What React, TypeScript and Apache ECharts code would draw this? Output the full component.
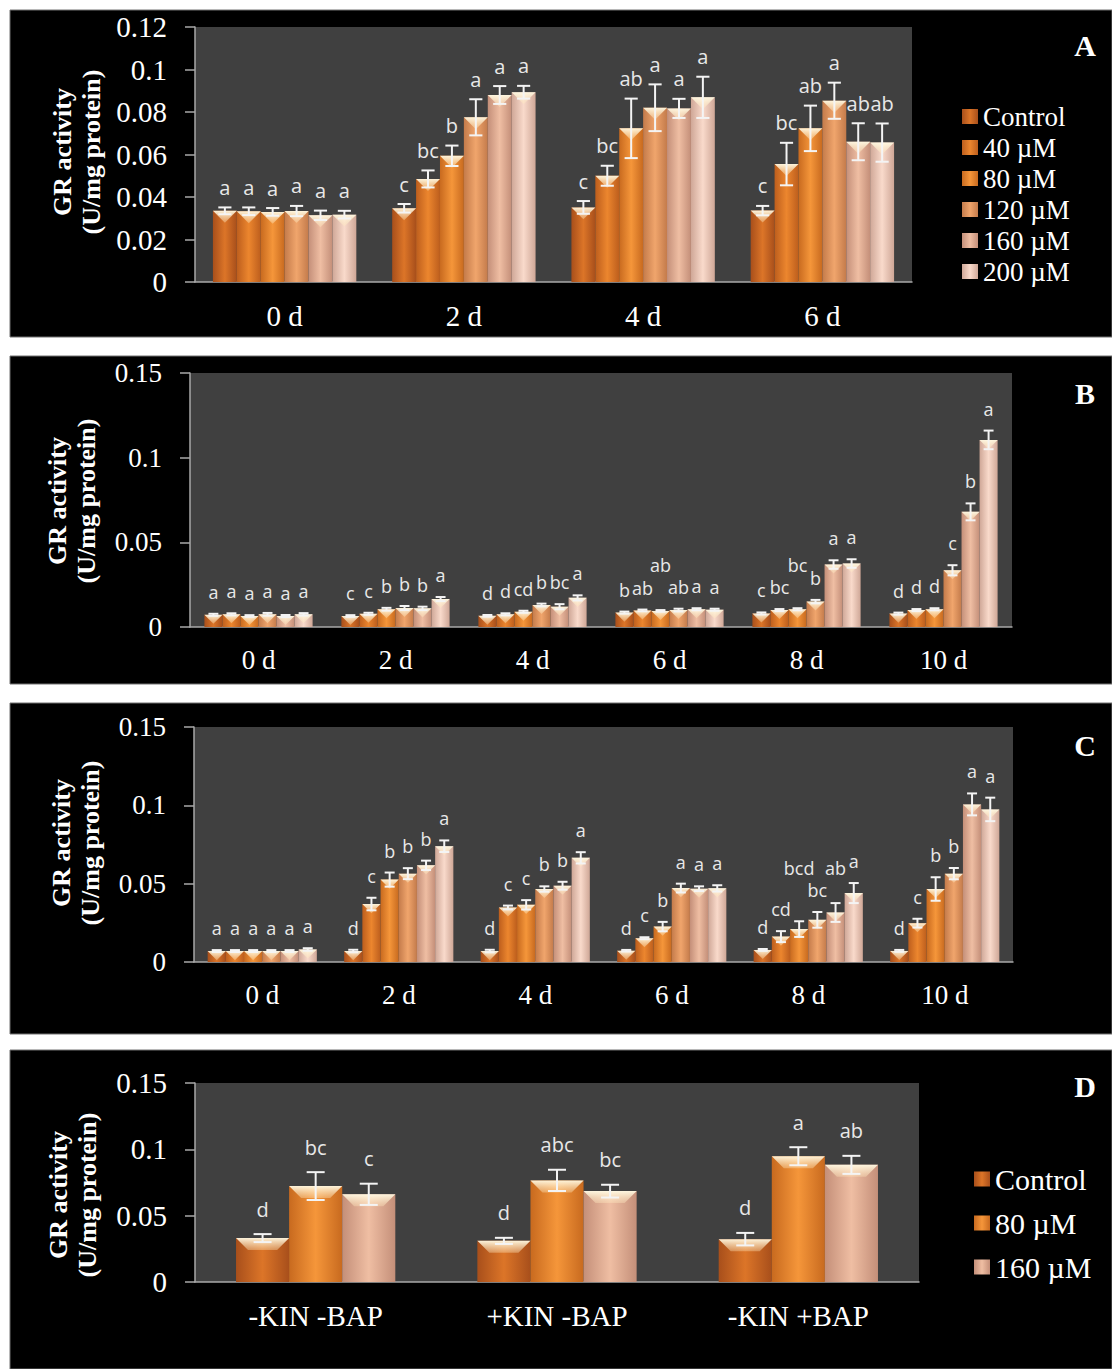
import { useEffect, useRef } from 'react';
import * as echarts from 'echarts';

const serif = '"Liberation Serif", "Times New Roman", serif';
const sans = '"Open Sans", "Noto Sans", sans-serif';

// ---------- categories ----------
const daysA = ['0 d', '2 d', '4 d', '6 d'];
const daysBC = ['0 d', '2 d', '4 d', '6 d', '8 d', '10 d'];
const hormoneGroups = ['-KIN -BAP', '+KIN -BAP', '-KIN +BAP'];

const treatmentsA = ['Control', '40 µM', '80 µM', '120 µM', '160 µM', '200 µM'];
const treatmentsD = ['Control', '80 µM', '160 µM'];

// ---------- panel A (rows: treatments, columns: days) ----------
const meanA = [
  [0.0335, 0.0347, 0.0351, 0.0336],
  [0.0333, 0.0485, 0.05, 0.0555],
  [0.033, 0.0594, 0.0723, 0.0723],
  [0.0334, 0.0775, 0.082, 0.0853],
  [0.0314, 0.088, 0.0817, 0.066],
  [0.0317, 0.0893, 0.0869, 0.0656],
];
const errA = [
  [0.0016, 0.002, 0.003, 0.0022],
  [0.0018, 0.004, 0.0047, 0.01],
  [0.0018, 0.0048, 0.014, 0.0107],
  [0.0024, 0.0085, 0.011, 0.0085],
  [0.0022, 0.0042, 0.0045, 0.0087],
  [0.0018, 0.003, 0.0097, 0.009],
];
const lettersA = [
  ['a', 'c', 'c', 'c'],
  ['a', 'bc', 'bc', 'bc'],
  ['a', 'b', 'ab', 'ab'],
  ['a', 'a', 'a', 'a'],
  ['a', 'a', 'a', 'ab'],
  ['a', 'a', 'a', 'ab'],
];

// ---------- panel B ----------
const meanB = [
  [0.0072, 0.0065, 0.0066, 0.0085, 0.008, 0.0079],
  [0.0075, 0.0078, 0.0075, 0.0098, 0.01, 0.01],
  [0.0065, 0.0105, 0.009, 0.0095, 0.0105, 0.0105],
  [0.0075, 0.0112, 0.013, 0.01, 0.015, 0.0335],
  [0.0065, 0.011, 0.012, 0.0105, 0.0369, 0.068],
  [0.0075, 0.0165, 0.0172, 0.0102, 0.0375, 0.1105],
];
const errB = [
  [0.0006, 0.0005, 0.0005, 0.0006, 0.0006, 0.0006],
  [0.0006, 0.0006, 0.0006, 0.0005, 0.0006, 0.0006],
  [0.0005, 0.0008, 0.0006, 0.0005, 0.0006, 0.0006],
  [0.0008, 0.0012, 0.0008, 0.0008, 0.001, 0.003],
  [0.0006, 0.001, 0.0015, 0.0006, 0.0025, 0.005],
  [0.0007, 0.0012, 0.0015, 0.0006, 0.0025, 0.0055],
];
const lettersB = [
  ['a', 'c', 'd', 'b', 'c', 'd'],
  ['a', 'c', 'd', 'ab', 'bc', 'd'],
  ['a', 'b', 'cd', 'ab', 'bc', 'd'],
  ['a', 'b', 'b', 'ab', 'b', 'c'],
  ['a', 'b', 'bc', 'a', 'a', 'b'],
  ['a', 'a', 'a', 'a', 'a', 'a'],
];

// ---------- panel C ----------
const meanC = [
  [0.007, 0.007, 0.007, 0.0072, 0.0077, 0.0071],
  [0.007, 0.037, 0.0348, 0.0152, 0.0162, 0.0248],
  [0.007, 0.0526, 0.0365, 0.0226, 0.021, 0.0466],
  [0.007, 0.0564, 0.0466, 0.0472, 0.0269, 0.0564],
  [0.007, 0.0617, 0.0487, 0.0468, 0.0316, 0.1006],
  [0.008, 0.0739, 0.0665, 0.047, 0.044, 0.0974],
];
const errC = [
  [0.0006, 0.0008, 0.0008, 0.0005, 0.0006, 0.0006],
  [0.0006, 0.004, 0.0012, 0.0006, 0.0035, 0.0028],
  [0.0006, 0.0045, 0.003, 0.003, 0.005, 0.0075],
  [0.0006, 0.0035, 0.0017, 0.0028, 0.005, 0.0036],
  [0.0006, 0.003, 0.0025, 0.0015, 0.006, 0.007],
  [0.0008, 0.0037, 0.0036, 0.002, 0.0064, 0.0075],
];
const lettersC = [
  ['a', 'd', 'd', 'd', 'd', 'd'],
  ['a', 'c', 'c', 'c', 'cd', 'c'],
  ['a', 'b', 'c', 'b', 'bcd', 'b'],
  ['a', 'b', 'b', 'a', 'bc', 'b'],
  ['a', 'b', 'b', 'a', 'ab', 'a'],
  ['a', 'a', 'a', 'a', 'a', 'a'],
];

// ---------- panel D ----------
const meanD = [
  [0.0331, 0.031, 0.0323],
  [0.0723, 0.0766, 0.0948],
  [0.0661, 0.0685, 0.0883],
];
const errD = [
  [0.003, 0.0023, 0.0047],
  [0.0105, 0.008, 0.0068],
  [0.008, 0.0048, 0.0068],
];
const lettersD = [
  ['d', 'd', 'd'],
  ['bc', 'abc', 'a'],
  ['c', 'bc', 'ab'],
];

// edge / centre colours of the cylinder-like bars, one pair per concentration
const barShades = [
  ['#a84f1b', '#dc7528'],
  ['#bd5e1d', '#ec862e'],
  ['#c86a1f', '#f5963a'],
  ['#c47b4b', '#f0a56c'],
  ['#c48f79', '#efbea3'],
  ['#cfa797', '#f9dacb'],
];

const shadeFill = (i: number) => ({
  type: 'linear',
  x: 0,
  y: 0,
  x2: 1,
  y2: 0,
  colorStops: [
    { offset: 0, color: barShades[i][0] },
    { offset: 0.5, color: barShades[i][1] },
    { offset: 1, color: barShades[i][0] },
  ],
});

const bevelFill = {
  type: 'linear',
  x: 0,
  y: 0,
  x2: 0,
  y2: 1,
  colorStops: [
    { offset: 0, color: 'rgba(255,250,228,0.95)' },
    { offset: 1, color: 'rgba(255,232,190,0.35)' },
  ],
};

const panels = [
  {
    tag: 'A', cats: daysA, names: treatmentsA, shades: [0, 1, 2, 3, 4, 5],
    mean: meanA, err: errA, letters: lettersA,
    grid: { left: 195, top: 27, width: 717, height: 255 },
    max: 0.12, interval: 0.02, gap: 0.2, axisFont: 29, letterFont: 20, lift: 10,
    frame: [10, 10, 1102, 327], title: [77, 152], tagY: 45,
  },
  {
    tag: 'B', cats: daysBC, names: treatmentsA, shades: [0, 1, 2, 3, 4, 5],
    mean: meanB, err: errB, letters: lettersB,
    grid: { left: 190, top: 373, width: 822, height: 254 },
    max: 0.15, interval: 0.05, gap: 0.21, axisFont: 27, letterFont: 18, lift: 13,
    frame: [10, 356, 1102, 328], title: [72, 501], tagY: 393,
  },
  {
    tag: 'C', cats: daysBC, names: treatmentsA, shades: [0, 1, 2, 3, 4, 5],
    mean: meanC, err: errC, letters: lettersC,
    grid: { left: 194, top: 727, width: 819, height: 235 },
    max: 0.15, interval: 0.05, gap: 0.2, axisFont: 27, letterFont: 18, lift: 13,
    frame: [10, 703, 1102, 331], title: [76, 843], tagY: 745,
  },
  {
    tag: 'D', cats: hormoneGroups, names: treatmentsD, shades: [0, 2, 4],
    mean: meanD, err: errD, letters: lettersD,
    grid: { left: 195, top: 1083, width: 724, height: 199 },
    max: 0.15, interval: 0.05, gap: 0.34, axisFont: 29, letterFont: 20, lift: 15,
    frame: [10, 1050, 1102, 319], title: [73, 1195], tagY: 1086,
  },
];

type Panel = (typeof panels)[number];

// Bottom edge of every letter in one category. A letter that would run into
// its (unraised) left neighbour is lifted clear of both neighbours, which
// gives the staggered look of crowded groups without stacking whole runs.
function letterBottoms(p: Panel, api: any, c: number, bw: number): number[] {
  const n = p.names.length;
  const step = p.letterFont * 1.05;
  const raise = p.letterFont * 1.2;
  const widths: number[] = [];
  const natural: number[] = [];
  for (let s = 0; s < n; s++) {
    widths.push(p.letters[s][c].length * p.letterFont * 0.56);
    natural.push(api.coord([c, p.mean[s][c] + p.err[s][c]])[1] - p.lift);
  }
  const clashX = (i: number, j: number) => bw < (widths[i] + widths[j]) / 2;
  const out: number[] = [];
  const raisedFlags: boolean[] = [];
  for (let s = 0; s < n; s++) {
    let y = natural[s];
    let raised = false;
    if (s > 0 && !raisedFlags[s - 1] && clashX(s, s - 1) && Math.abs(y - out[s - 1]) < step) {
      y = Math.min(y, out[s - 1] - raise);
      if (s + 1 < n && clashX(s, s + 1)) y = Math.min(y, natural[s + 1] - raise);
      raised = true;
    }
    out.push(y);
    raisedFlags.push(raised);
  }
  return out;
}

function buildOption() {
  const grid: any[] = [];
  const xAxis: any[] = [];
  const yAxis: any[] = [];
  const series: any[] = [];
  const graphic: any[] = [];

  panels.forEach((p, pi) => {
    const n = p.names.length;
    grid.push({
      ...p.grid,
      show: true,
      backgroundColor: '#404040',
      borderWidth: 0,
    });
    xAxis.push({
      type: 'category',
      gridIndex: pi,
      data: p.cats,
      axisLine: { lineStyle: { color: '#a8a8a8', width: 1.5 } },
      axisTick: { length: 10, lineStyle: { color: '#a8a8a8', width: 1.5 } },
      axisLabel: { color: '#ffffff', fontFamily: serif, fontSize: p.axisFont, margin: 19 },
      splitLine: { show: false },
    });
    yAxis.push({
      type: 'value',
      gridIndex: pi,
      min: 0,
      max: p.max,
      interval: p.interval,
      axisLine: { show: true, lineStyle: { color: '#a8a8a8', width: 1.5 } },
      axisTick: { show: true, length: 10, lineStyle: { color: '#a8a8a8', width: 1.5 } },
      axisLabel: { color: '#ffffff', fontFamily: serif, fontSize: p.axisFont, margin: 28 },
      splitLine: { show: false },
    });

    p.names.forEach((name, s) => {
      series.push({
        type: 'bar',
        name,
        xAxisIndex: pi,
        yAxisIndex: pi,
        data: p.mean[s],
        barGap: '0%',
        barCategoryGap: `${Math.round(p.gap * 100)}%`,
        itemStyle: { color: shadeFill(p.shades[s]) },
        silent: true,
        z: 2,
      });
    });

    // error bars, bevel highlight and significance letters
    const rows: number[][] = [];
    p.names.forEach((_, s) => {
      p.cats.forEach((__, c) => {
        rows.push([c, s, p.mean[s][c], p.err[s][c]]);
      });
    });
    series.push({
      type: 'custom',
      xAxisIndex: pi,
      yAxisIndex: pi,
      data: rows,
      encode: { x: 0, y: 2 },
      silent: true,
      clip: false,
      z: 4,
      renderItem: (_params: any, api: any) => {
        const c = api.value(0);
        const s = api.value(1);
        const v = api.value(2);
        const e = api.value(3);
        const band = api.size([1, 0])[0];
        const group = band * (1 - p.gap);
        const bw = group / n;
        const top = api.coord([c, v]);
        const x = top[0] - group / 2 + (s + 0.5) * bw;
        const yTop = top[1];
        const y0 = api.coord([c, 0])[1];
        const yHi = api.coord([c, v + e])[1];
        const yLo = api.coord([c, v - e])[1];
        const b = Math.min(bw / 2, 12, y0 - yTop);
        const cap = Math.min(bw * 0.55, 18) / 2;
        const line = { stroke: '#f4f4f4', lineWidth: 2 };
        const textBottom = letterBottoms(p, api, c, bw)[s];
        return {
          type: 'group',
          children: [
            {
              type: 'polygon',
              shape: {
                points: [
                  [x - bw / 2, yTop],
                  [x + bw / 2, yTop],
                  [x + bw / 2 - b, yTop + b],
                  [x - bw / 2 + b, yTop + b],
                ],
              },
              style: { fill: bevelFill },
            },
            { type: 'line', shape: { x1: x, y1: yLo, x2: x, y2: yHi }, style: line },
            { type: 'line', shape: { x1: x - cap, y1: yHi, x2: x + cap, y2: yHi }, style: line },
            { type: 'line', shape: { x1: x - cap, y1: yLo, x2: x + cap, y2: yLo }, style: line },
            {
              type: 'text',
              x,
              y: textBottom,
              style: {
                text: p.letters[s][c],
                fill: '#e8e8e8',
                font: `${p.letterFont}px ${sans}`,
                textAlign: 'center',
                textVerticalAlign: 'bottom',
              },
            },
          ],
        };
      },
    });

    const [fx, fy, fw, fh] = p.frame;
    graphic.push({
      type: 'rect',
      z: -10,
      shape: { x: fx, y: fy, width: fw, height: fh },
      style: { fill: '#000000', stroke: '#707070', lineWidth: 1 },
      silent: true,
    });
    graphic.push({
      type: 'text',
      x: p.title[0],
      y: p.title[1],
      rotation: Math.PI / 2,
      z: 10,
      style: {
        text: 'GR activity\n(U/mg protein)',
        fill: '#ffffff',
        font: `bold 26px ${serif}`,
        lineHeight: 29,
        textAlign: 'center',
        textVerticalAlign: 'middle',
      },
      silent: true,
    });
    graphic.push({
      type: 'text',
      x: 1085,
      y: p.tagY,
      z: 10,
      style: {
        text: p.tag,
        fill: '#ffffff',
        font: `bold 30px ${serif}`,
        textAlign: 'center',
        textVerticalAlign: 'middle',
      },
      silent: true,
    });
  });

  return {
    animation: false,
    backgroundColor: '#ffffff',
    grid,
    xAxis,
    yAxis,
    series,
    graphic,
    legend: [
      {
        orient: 'vertical',
        left: 957,
        top: 98,
        itemGap: 4,
        itemWidth: 16,
        itemHeight: 15,
        icon: 'rect',
        selectedMode: false,
        data: treatmentsA,
        textStyle: { color: '#ffffff', fontFamily: serif, fontSize: 27, lineHeight: 27 },
      },
      {
        orient: 'vertical',
        left: 969,
        top: 1159,
        itemGap: 14,
        itemWidth: 16,
        itemHeight: 15,
        icon: 'rect',
        selectedMode: false,
        data: treatmentsD,
        textStyle: { color: '#ffffff', fontFamily: serif, fontSize: 30, lineHeight: 30 },
      },
    ],
  };
}

export default function App() {
  const ref = useRef<HTMLDivElement>(null);
  useEffect(() => {
    if (!ref.current) return;
    const chart = echarts.init(ref.current, null, { renderer: 'svg' });
    chart.setOption(buildOption() as any);
    return () => chart.dispose();
  }, []);
  return (
    <div
      ref={ref}
      style={{ position: 'absolute', left: 0, top: 0, width: 1112, height: 1369 }}
    />
  );
}
